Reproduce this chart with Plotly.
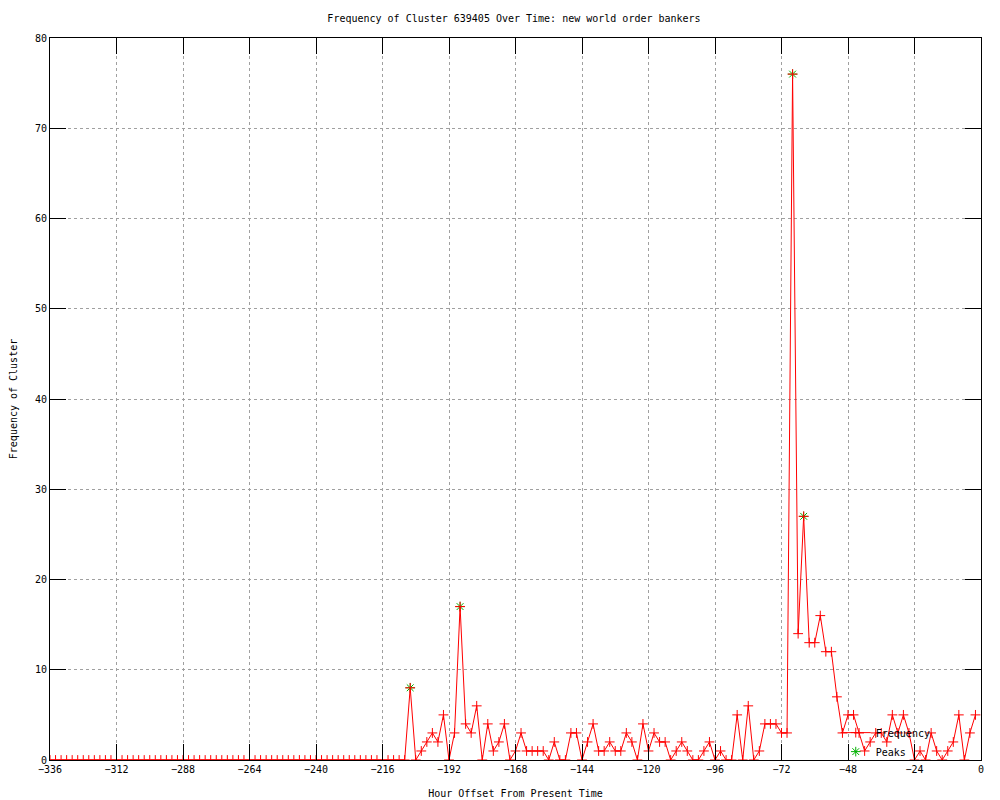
import plotly.graph_objects as go

# Hour offsets (every 2 hours from -336 to -2)
hours = list(range(-336, 0, 2))

frequency = (
    [0] * 65 +                      # -336 .. -208
    [8, 0, 1, 2, 3, 2, 5, 0, 3, 17,  # -206 .. -188
     4, 3, 6, 0, 4, 1, 2, 4, 0, 1,   # -186 .. -168
     3, 1, 1, 1, 1, 0, 2, 0, 0, 3,   # -166 .. -148
     3, 0, 2, 4, 1, 1, 2, 1, 1, 3,   # -146 .. -128
     2, 0, 4, 1, 3, 2, 2, 0, 1, 2,   # -126 .. -108
     1, 0, 0, 1, 2, 0, 1, 0, 0, 5,   # -106 .. -88
     0, 6, 0, 1, 4, 4, 4, 3, 3, 76,  # -86 .. -68
     14, 27, 13, 13, 16, 12, 12, 7, 3, 5,  # -66 .. -48
     5, 3, 1, 2, 3, 3, 2, 5, 3, 5,   # -46 .. -28
     3, 0, 1, 0, 3, 1, 0, 1, 2, 5,   # -26 .. -8
     0, 3, 5]                        # -6 .. -2
)

peak_hours = [-206, -188, -68, -64]
peak_values = [8, 17, 76, 27]

title_text = "Frequency of Cluster 639405 Over Time: new world order bankers"
x_title = "Hour Offset From Present Time"
y_title = "Frequency of Cluster"

FONT = "DejaVu Sans Mono"

fig = go.Figure()

fig.add_trace(go.Scatter(
    x=peak_hours, y=peak_values, mode="markers", name="Peaks",
    marker=dict(symbol="asterisk-open", size=8, color="#00b000",
                line=dict(color="#00b000", width=1)),
))

fig.add_trace(go.Scatter(
    x=hours, y=frequency, mode="lines+markers", name="Frequency",
    line=dict(color="#ff0000", width=1),
    marker=dict(symbol="cross-thin-open", size=7, color="#ff0000",
                line=dict(color="#ff0000", width=1)),
))

axis_common = dict(
    showline=True, linecolor="black", linewidth=1, mirror="ticks",
    ticks="inside", ticklen=16, tickcolor="black", tickwidth=1,
    showgrid=True, gridcolor="#a0a0a0", gridwidth=1, griddash="dot",
    zeroline=False, automargin=False,
    tickfont=dict(family=FONT, size=10, color="black"),
)

fig.update_xaxes(
    range=[-336, 0], tick0=0, dtick=24,
    title=dict(text=x_title, font=dict(family=FONT, size=10, color="black"), standoff=15),
    **axis_common,
)
fig.update_yaxes(
    range=[0, 80], tick0=0, dtick=10,
    title=dict(text=y_title, font=dict(family=FONT, size=10, color="black"), standoff=15),
    **axis_common,
)

fig.update_layout(
    template="none",
    width=1000, height=800,
    margin=dict(l=42, r=27, t=30, b=48),
    paper_bgcolor="white", plot_bgcolor="white",
    font=dict(family=FONT, size=10, color="black"),
    title=dict(text=title_text, x=0.506, xanchor="center", y=1 - 10 / 800,
               yanchor="middle", yref="container",
               font=dict(family=FONT, size=10, color="black")),
    legend=dict(x=0.844, xanchor="left", y=0.058, yanchor="top",
                bgcolor="rgba(0,0,0,0)", borderwidth=0,
                traceorder="reversed", tracegroupgap=0,
                font=dict(family=FONT, size=10, color="black")),
    showlegend=True,
)

fig.write_html("out.html")
